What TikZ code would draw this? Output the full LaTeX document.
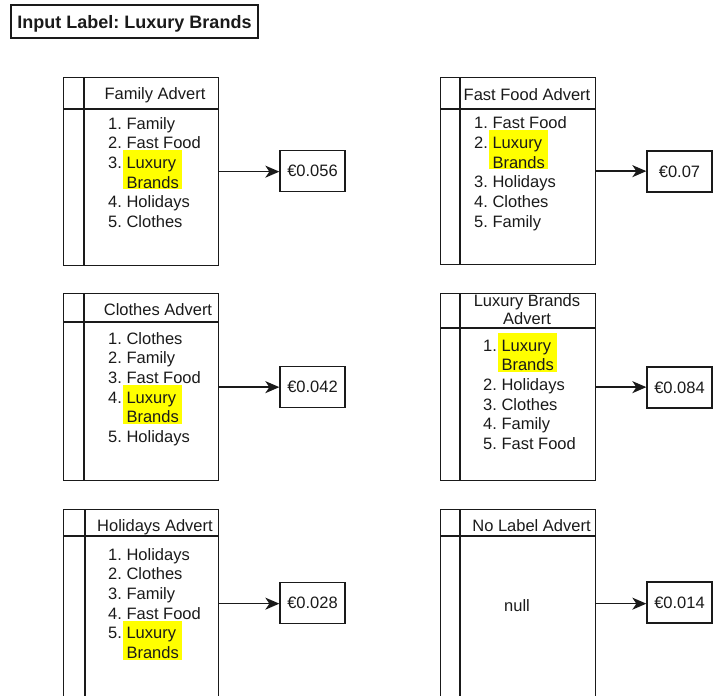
\documentclass[tikz,border=0pt]{standalone}
\usepackage{fontspec}
\setmainfont{Liberation Sans}
\usetikzlibrary{arrows.meta}
\frenchspacing
\definecolor{hly}{HTML}{FFFF00}
\definecolor{ink}{HTML}{1A1A1A}
\newsavebox\hlsave
\newcommand\hlbox[1]{\sbox\hlsave{#1}\smash{\rlap{\hspace*{-4pt}\textcolor{hly}{\rule[-21pt]{\dimexpr\wd\hlsave+7pt\relax}{39pt}}}}\usebox\hlsave}
\newcommand\lbitem{\hlbox{\begin{tabular}[t]{@{}l@{}}Luxury\\Brands\end{tabular}}}
\tikzset{
  lane/.style={draw=ink, line width=1.3pt, minimum width=155pt, inner sep=0pt, anchor=north west},
  laneline/.style={draw=ink, line width=1.3pt},
  valbox/.style={draw=ink, line width=1.3pt, minimum width=65pt, minimum height=41pt, inner sep=0pt,
                 text height=11.8pt, text depth=0pt, text=ink},
  hdr/.style={inner sep=0pt, text=ink, text height=11.8pt, text depth=0pt},
  lst/.style={inner sep=0pt, anchor=base west, text=ink},
  conn/.style={draw=ink, line width=1.4pt, -{Stealth[length=14pt,width=12pt,inset=4pt]}},
}
\begin{document}
\begin{tikzpicture}[x=1pt,y=-1pt, font=\fontsize{16.5}{19.7}\selectfont]
\useasboundingbox (0,0) rectangle (713,696);
\clip (0,0) rectangle (713,696);

% title
\node[draw=ink, line width=1.3pt, minimum width=247pt, minimum height=33pt, inner sep=0pt,
      text height=13pt, text depth=0pt,
      font=\bfseries\fontsize{18}{21}\selectfont, text=ink] (title) at (134.5,21.5) {Input Label: Luxury Brands};

% ---------- Family Advert ----------
\node[lane, minimum height=188pt] (fam) at (63,77) {};
\draw[laneline] ([xshift=21pt]fam.north west) -- ([xshift=21pt]fam.south west);
\draw[laneline] ([yshift=-32pt]fam.north west) -- ([yshift=-32pt]fam.north east);
\node[hdr] (famh) at (155,94) {Family Advert};
\node[lst] (faml) at (108,129) {\begin{tabular}[t]{@{}l@{\ }l@{}}1.&Family\\2.&Fast Food\\3.&\lbitem\\4.&Holidays\\5.&Clothes\end{tabular}};
\node[valbox] (famv) at (312.5,171) {€0.056};
\draw[conn] (fam.east) -- (fam.east -| famv.west);

% ---------- Fast Food Advert ----------
\node[lane, minimum height=187pt] (ff) at (440,77) {};
\draw[laneline] ([xshift=20pt]ff.north west) -- ([xshift=20pt]ff.south west);
\draw[laneline] ([yshift=-32pt]ff.north west) -- ([yshift=-32pt]ff.north east);
\node[hdr] (ffh) at (527,95) {Fast Food Advert};
\node[lst] (ffl) at (474,128.6) {\begin{tabular}[t]{@{}l@{\ }l@{}}1.&Fast Food\\2.&\lbitem\\3.&Holidays\\4.&Clothes\\5.&Family\end{tabular}};
\node[valbox] (ffv) at (679.5,171.5) {€0.07};
\draw[conn] (ff.east) -- (ff.east -| ffv.west);

% ---------- Clothes Advert ----------
\node[lane, minimum height=187pt] (clo) at (63,293) {};
\draw[laneline] ([xshift=21pt]clo.north west) -- ([xshift=21pt]clo.south west);
\draw[laneline] ([yshift=-29pt]clo.north west) -- ([yshift=-29pt]clo.north east);
\node[hdr] (cloh) at (158,310) {Clothes Advert};
\node[lst] (clol) at (108,344) {\begin{tabular}[t]{@{}l@{\ }l@{}}1.&Clothes\\2.&Family\\3.&Fast Food\\4.&\lbitem\\5.&Holidays\end{tabular}};
\node[valbox] (clov) at (312.5,387) {€0.042};
\draw[conn] (clo.east) -- (clo.east -| clov.west);

% ---------- Luxury Brands Advert ----------
\node[lane, minimum height=187pt] (lux) at (440,293) {};
\draw[laneline] ([xshift=20pt]lux.north west) -- ([xshift=20pt]lux.south west);
\draw[laneline] ([yshift=-35pt]lux.north west) -- ([yshift=-35pt]lux.north east);
\node[hdr] (luxh1) at (527,300.5) {Luxury Brands};
\node[hdr] (luxh2) at (527,318.5) {Advert};
\node[lst] (luxl) at (483,351) {\begin{tabular}[t]{@{}l@{\ }l@{}}1.&\lbitem\\2.&Holidays\\3.&Clothes\\4.&Family\\5.&Fast Food\end{tabular}};
\node[valbox] (luxv) at (679.5,387.5) {€0.084};
\draw[conn] (lux.east) -- (lux.east -| luxv.west);

% ---------- Holidays Advert ----------
\node[lane, minimum height=188pt] (hol) at (63,509) {};
\draw[laneline] ([xshift=22pt]hol.north west) -- ([xshift=22pt]hol.south west);
\draw[laneline] ([yshift=-27pt]hol.north west) -- ([yshift=-27pt]hol.north east);
\node[hdr] (holh) at (155,526) {Holidays Advert};
\node[lst] (holl) at (108,560) {\begin{tabular}[t]{@{}l@{\ }l@{}}1.&Holidays\\2.&Clothes\\3.&Family\\4.&Fast Food\\5.&\lbitem\end{tabular}};
\node[valbox] (holv) at (312.5,603) {€0.028};
\draw[conn] (hol.east) -- (hol.east -| holv.west);

% ---------- No Label Advert ----------
\node[lane, minimum height=188pt] (nol) at (440,509) {};
\draw[laneline] ([xshift=20pt]nol.north west) -- ([xshift=20pt]nol.south west);
\draw[laneline] ([yshift=-27pt]nol.north west) -- ([yshift=-27pt]nol.north east);
\node[hdr] (nolh) at (531.5,526) {No Label Advert};
\node[hdr] (noll) at (517,606) {null};
\node[valbox] (nolv) at (679.5,602.5) {€0.014};
\draw[conn] (nol.east) -- (nol.east -| nolv.west);
\end{tikzpicture}
\end{document}
